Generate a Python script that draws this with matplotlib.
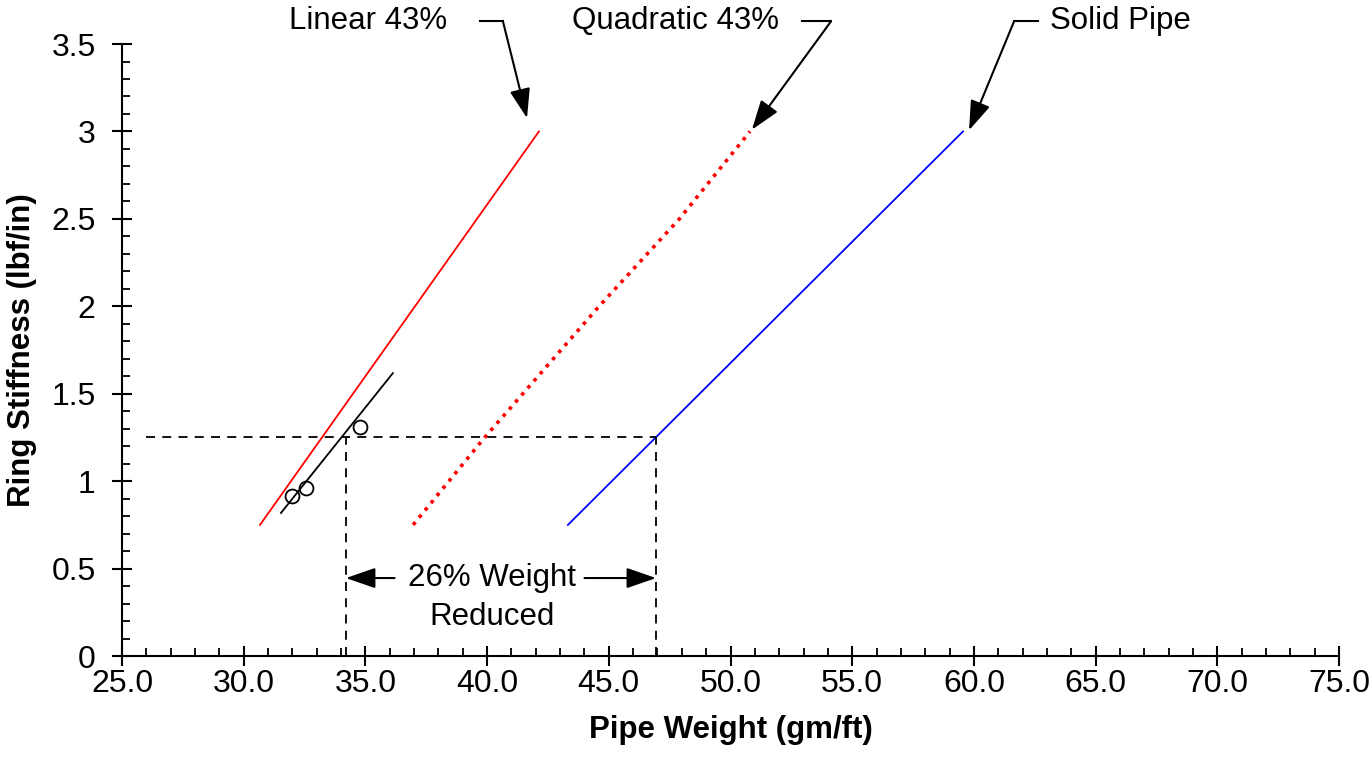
import numpy as np
import matplotlib
matplotlib.use('Agg')
import matplotlib.pyplot as plt
from matplotlib.ticker import MultipleLocator, FormatStrFormatter

plt.rcParams['font.family'] = ['Liberation Sans', 'DejaVu Sans']

#Data
linear_x = [30.67, 42.13]
linear_y = [0.75, 3.0]
quad_x = [36.96, 39.9, 44.6, 47.9, 50.8]
quad_y = [0.75, 1.25, 2.0, 2.5, 3.0]
solid_x = [43.32, 59.55]
solid_y = [0.75, 3.0]
fit_x = [31.53, 36.13]
fit_y = [0.818, 1.618]
test_x = [31.98, 32.56, 34.78]
test_y = [0.915, 0.96, 1.31]

target_stiff = 1.25
w_lin = 34.2
w_solid = 46.94

fig = plt.figure(figsize=(13.72, 7.75), dpi=100)
ax = fig.add_axes([0.0889, 0.1535, 0.8871, 0.7897])

ax.plot(linear_x, linear_y, color='red', lw=1.3)
ax.plot(quad_x, quad_y, color='red', lw=2.6, linestyle=(0, (1.0, 1.6)))
ax.plot(solid_x, solid_y, color='blue', lw=1.3)
ax.plot(fit_x, fit_y, color='black', lw=1.3)
ax.plot(test_x, test_y, 'o', mfc='none', mec='black', ms=10, mew=1.3)

#dashed guide lines
ax.plot([26.0, w_solid], [target_stiff, target_stiff], 'k--', lw=1.3, dashes=(5, 4))
ax.plot([w_lin, w_lin], [0, target_stiff], 'k--', lw=1.3, dashes=(5, 4))
ax.plot([w_solid, w_solid], [0, target_stiff], 'k--', lw=1.3, dashes=(5, 4))

#26% arrows and text
arr = dict(arrowstyle='-|>,head_length=1.3,head_width=0.45', color='black',
           lw=1.5, mutation_scale=14, shrinkA=0, shrinkB=0)
ax.annotate('', xy=(w_lin, 0.446), xytext=(36.2, 0.446), arrowprops=arr)
ax.annotate('', xy=(w_solid, 0.446), xytext=(44.0, 0.446), arrowprops=arr)
ax.text(40.2, 0.446, '26% Weight', fontsize=22.5, ha='center', va='center')
ax.text(40.2, 0.225, 'Reduced', fontsize=22.5, ha='center', va='center')

#labels with leader arrows on top
labels = ['Linear 43%', 'Quadratic 43%', 'Solid Pipe']
label_x = [35.1, 47.76, 66.0]
lead_a = [39.71, 52.94, 62.63]    # free end of short horizontal
lead_b = [40.65, 54.13, 61.65]    # corner where arrow starts
tip_x = [41.64, 50.88, 59.8]
tip_y = [3.076, 3.01, 3.007]
lab_y = 3.63
for lab, lx, xa, xb, tx, ty in zip(labels, label_x, lead_a, lead_b, tip_x, tip_y):
    ax.text(lx, lab_y, lab, fontsize=22.5, ha='center', va='center', clip_on=False)
    ax.plot([xa, xb], [lab_y, lab_y], color='black', lw=1.5, clip_on=False)
    ax.annotate('', xy=(tx, ty), xytext=(xb, lab_y), arrowprops=arr,
                annotation_clip=False)

ax.set_xlim(25, 75)
ax.set_ylim(0, 3.5)
ax.xaxis.set_major_locator(MultipleLocator(5))
ax.xaxis.set_minor_locator(MultipleLocator(1))
ax.xaxis.set_major_formatter(FormatStrFormatter('%.1f'))
ax.yaxis.set_major_locator(MultipleLocator(0.5))
ax.yaxis.set_minor_locator(MultipleLocator(0.1))
ax.yaxis.set_major_formatter(FormatStrFormatter('%g'))

for s in ['top', 'right']:
    ax.spines[s].set_visible(False)
for s in ['left', 'bottom']:
    ax.spines[s].set_linewidth(1.5)
ax.tick_params(which='major', direction='inout', length=14, width=1.5,
               labelsize=23)
ax.tick_params(axis='x', which='major', pad=2)
ax.tick_params(axis='y', which='major', pad=12)
ax.tick_params(which='minor', direction='in', length=6, width=1.3)

ax.set_xlabel('Pipe Weight (gm/ft)', fontsize=22.5, fontweight='bold', labelpad=12)
ax.set_ylabel('Ring Stiffness (lbf/in)', fontsize=22.5, fontweight='bold', labelpad=10)

fig.savefig('out.png', dpi=100)
